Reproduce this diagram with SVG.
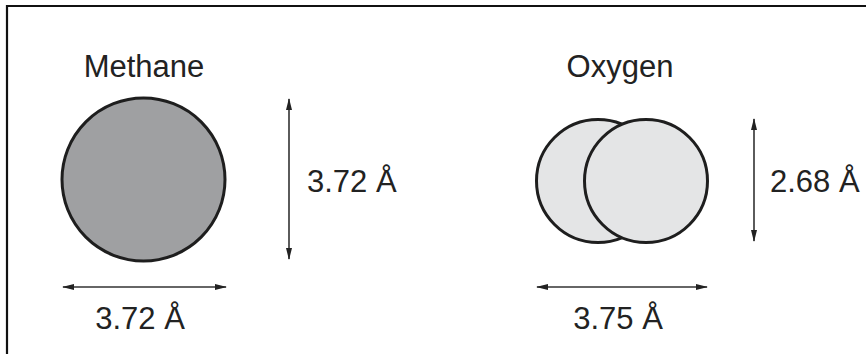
<svg xmlns="http://www.w3.org/2000/svg" width="866" height="354" viewBox="0 0 866 354">
<style>
text{font-family:"Liberation Sans",Arial,sans-serif;font-size:31px;fill:#222}
.atom{stroke:#1e1e1e;stroke-width:3}
.dim{stroke:#333;stroke-width:1.6;fill:none}
</style>
<defs>
<marker id="ah" viewBox="0 0 12 6" refX="11" refY="3" markerWidth="12" markerHeight="6" markerUnits="userSpaceOnUse" orient="auto-start-reverse">
<path d="M0,0 L12,3 L0,6 Z" fill="#222"/>
</marker>
</defs>
<rect width="866" height="354" fill="#fff"/>
<path d="M7,354 V6 H866" fill="none" stroke="#111" stroke-width="2.2"/>
<g id="methane">
<circle class="atom" cx="143.5" cy="179.5" r="81.5" fill="#9fa0a2"/>
<text x="144" y="77" text-anchor="middle">Methane</text>
</g>
<g id="oxygen">
<circle class="atom" cx="598" cy="181" r="61.5" fill="#e4e5e6"/>
<circle class="atom" cx="646" cy="181" r="61.5" fill="#e4e5e6"/>
<text x="620" y="77" text-anchor="middle">Oxygen</text>
</g>
<g id="connectors">
<line class="dim" x1="289" y1="99" x2="289" y2="259" marker-start="url(#ah)" marker-end="url(#ah)"/>
<line class="dim" x1="63" y1="287" x2="226" y2="287" marker-start="url(#ah)" marker-end="url(#ah)"/>
<line class="dim" x1="754" y1="119" x2="754" y2="241" marker-start="url(#ah)" marker-end="url(#ah)"/>
<line class="dim" x1="537" y1="287" x2="707" y2="287" marker-start="url(#ah)" marker-end="url(#ah)"/>
</g>
<g id="labels">
<text x="307" y="192">3.72 Å</text>
<text x="140" y="329" text-anchor="middle">3.72 Å</text>
<text x="770" y="192">2.68 Å</text>
<text x="618" y="329" text-anchor="middle">3.75 Å</text>
</g>
</svg>
